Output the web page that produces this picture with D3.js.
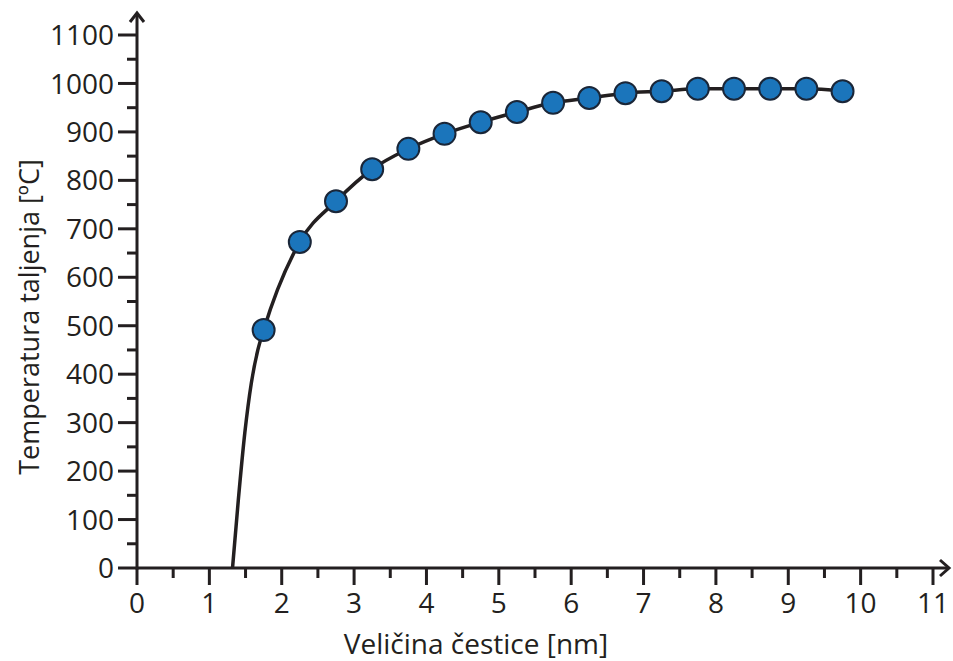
<!DOCTYPE html>
<html>
<head>
<meta charset="utf-8">
<script src="https://cdn.jsdelivr.net/npm/d3@7"></script>
<style>
body { margin: 0; background: #fff; }
text { font-family: "Open Sans", sans-serif; fill: #231f20; }
</style>
</head>
<body>
<div id="chart"></div>
<script>
// measured points (size nm, melting temp C)
var sizes = [1.75, 2.25, 2.75, 3.25, 3.75, 4.25, 4.75, 5.25, 5.75, 6.25, 6.75, 7.25, 7.75, 8.25, 8.75, 9.25, 9.75];
var temps = [491, 673, 757, 823, 865, 896, 920, 941, 960, 970, 980, 984, 989, 989, 989, 989, 984];

// fitted curve, start segment
var curveX = [1.32, 1.40, 1.49, 1.58, 1.67];
var curveY = [0, 140, 279, 382, 450];

var xTicks = [0, 1, 2, 3, 4, 5, 6, 7, 8, 9, 10, 11];
var yTicks = [0, 100, 200, 300, 400, 500, 600, 700, 800, 900, 1000, 1100];

var width = 953, height = 661;
var ink = "#231f20";

var svg = d3.select("#chart").append("svg").attr("width", width).attr("height", height);

var x = d3.scaleLinear().domain([0, 11]).range([137, 933]);
var y = d3.scaleLinear().domain([0, 1100]).range([568, 35]);

var minorX = d3.range(0.5, 11, 1);
var minorY = d3.range(50, 1100, 100);

// axes lines
svg.append("line").attr("x1", x(0)).attr("x2", 948).attr("y1", y(0)).attr("y2", y(0))
    .attr("stroke", ink).attr("stroke-width", 3);
svg.append("line").attr("x1", x(0)).attr("x2", x(0)).attr("y1", y(0) + 1.5).attr("y2", 14)
    .attr("stroke", ink).attr("stroke-width", 3);
// arrow heads
svg.append("path").attr("d", "M" + (x(0) - 7) + ",22 L" + x(0) + ",13 L" + (x(0) + 7) + ",22")
    .attr("fill", "none").attr("stroke", ink).attr("stroke-width", 3);
svg.append("path").attr("d", "M940," + (y(0) - 8) + " L949," + y(0) + " L940," + (y(0) + 8))
    .attr("fill", "none").attr("stroke", ink).attr("stroke-width", 3);

// x ticks
svg.selectAll(".xt").data(xTicks).enter().append("line")
    .attr("x1", function(d){return x(d);}).attr("x2", function(d){return x(d);})
    .attr("y1", y(0)).attr("y2", y(0) + 17).attr("stroke", ink).attr("stroke-width", 3);
svg.selectAll(".xm").data(minorX).enter().append("line")
    .attr("x1", function(d){return x(d);}).attr("x2", function(d){return x(d);})
    .attr("y1", y(0)).attr("y2", y(0) + 10).attr("stroke", ink).attr("stroke-width", 3);
svg.selectAll(".xl").data(xTicks).enter().append("text")
    .attr("x", function(d){return x(d);}).attr("y", 613)
    .attr("text-anchor", "middle").attr("font-size", 28).text(function(d){return d;});

// y ticks
svg.selectAll(".yt").data(yTicks).enter().append("line")
    .attr("x1", x(0) - 19).attr("x2", x(0))
    .attr("y1", function(d){return y(d);}).attr("y2", function(d){return y(d);})
    .attr("stroke", ink).attr("stroke-width", 3);
svg.selectAll(".ym").data(minorY).enter().append("line")
    .attr("x1", x(0) - 10).attr("x2", x(0))
    .attr("y1", function(d){return y(d);}).attr("y2", function(d){return y(d);})
    .attr("stroke", ink).attr("stroke-width", 3);
svg.selectAll(".yl").data(yTicks).enter().append("text")
    .attr("x", 114).attr("y", function(d){return y(d);}).attr("dy", "0.36em")
    .attr("text-anchor", "end").attr("font-size", 28).text(function(d){return d;});

// axis titles
svg.append("text").attr("x", 476).attr("y", 654).attr("text-anchor", "middle")
    .attr("font-size", 28).text("Veličina čestice [nm]");
svg.append("text").attr("transform", "translate(39,317) rotate(-90)").attr("text-anchor", "middle")
    .attr("font-size", 27).text("Temperatura taljenja [ºC]");

// curve
var pts = curveX.map(function(d, i){return [d, curveY[i]];})
    .concat(sizes.map(function(d, i){return [d, temps[i]];}));
var line = d3.line().x(function(d){return x(d[0]);}).y(function(d){return y(d[1]);})
    .curve(d3.curveMonotoneX);
svg.append("path").datum(pts).attr("d", line)
    .attr("fill", "none").attr("stroke", ink).attr("stroke-width", 3.5);

// points
svg.selectAll(".pt").data(sizes).enter().append("circle")
    .attr("cx", function(d){return x(d);})
    .attr("cy", function(d, i){return y(temps[i]);})
    .attr("r", 11).attr("fill", "#1b75bb").attr("stroke", "#1a2638").attr("stroke-width", 2);
</script>
</body>
</html>
